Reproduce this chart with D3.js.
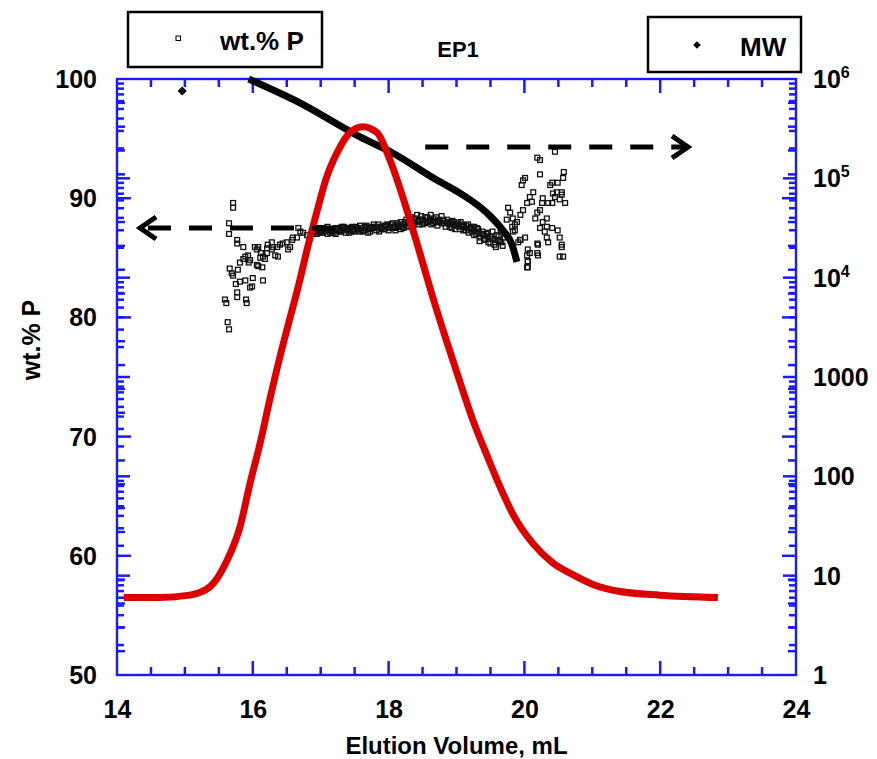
<!DOCTYPE html>
<html><head><meta charset="utf-8">
<script src="https://cdn.jsdelivr.net/npm/d3@7"></script>
<style>
body{margin:0;background:#fff;}
text{font-family:"Liberation Sans",Arial,sans-serif;font-weight:bold;fill:#000;}
</style></head>
<body><svg id="c" width="877" height="759"></svg>
<script>
// ---------- DATA ----------
const xTicks = [14,16,18,20,22,24];
const yLeftTicks = [50,60,70,80,90,100];
const yRightTicks = [1,10,100,1000,1e4,1e5,1e6];
const yRightLabels = [["1",""],["10",""],["100",""],["1000",""],["10","4"],["10","5"],["10","6"]];

// unlabeled red trace (left-axis units)
const riVolume = [14.10,14.63,15.07,15.37,15.62,15.81,15.96,16.11,16.25,16.40,16.55,16.67,16.80,16.95,17.09,17.24,17.43,17.62,17.83,18.02,18.27,18.46,18.65,18.86,19.05,19.24,19.45,19.64,19.83,20.13,20.42,20.72,21.01,21.41,22.00,22.85];
const riSignal = [56.5,56.5,56.7,57.4,59.6,62.4,66.1,69.5,73.1,76.7,80.0,82.6,85.7,89.0,91.8,93.8,95.5,96.0,95.5,93.2,89.0,85.4,81.7,77.9,74.6,71.4,68.4,65.8,63.5,61.0,59.4,58.4,57.6,57.0,56.7,56.5];

// MW (right axis)
const mwVolume = [15.94,16.70,17.58,18.06,18.71,19.05,19.45,19.68,19.82,19.89];
const mwValue  = [1.0e6,5.73e5,2.61e5,1.80e5,9.6e4,7.1e4,4.47e4,3.01e4,2.13e4,1.44e4];
const mwLoneVolume = [14.96];
const mwLoneValue = [7.57e5];

// wt.% P scatter
const wtVolume = [15.71,15.71,15.65,15.65,15.77,15.77,15.86,15.66,15.69,15.71,15.75,15.59,15.61,15.63,15.65,15.77,15.77,15.90,15.91,15.81,15.89,15.99,15.96,16.00,16.15,15.78,15.81,15.86,15.89,15.93,15.96,16.03,16.08,16.06,15.94,16.06,16.08,16.14,16.11,16.15,16.18,16.12,16.21,16.21,16.28,16.30,16.22,16.28,16.33,16.37,16.36,16.40,16.44,16.50,16.52,16.55,16.58,16.59,16.65,16.67,16.70,16.74,16.80,16.84,16.89,
16.92,16.95,16.98,17.01,17.04,17.07,17.10,17.13,17.16,17.19,17.22,17.25,17.28,17.31,17.34,17.37,17.40,17.43,17.46,17.49,17.52,17.55,17.58,17.61,17.64,17.67,17.70,17.73,17.76,17.79,17.82,17.85,17.88,17.91,17.94,17.97,18.00,18.03,18.06,18.09,18.12,18.15,18.18,18.21,18.24,18.27,18.30,18.33,18.36,18.39,18.42,18.45,18.48,18.51,18.54,18.57,18.60,18.63,18.66,18.69,18.72,18.75,18.78,18.81,18.84,18.87,18.90,18.93,18.96,18.99,19.02,19.05,19.08,19.11,19.14,19.17,19.20,19.23,19.26,19.29,19.32,19.35,19.38,19.41,19.44,19.47,19.50,19.53,19.56,19.59,19.62,19.65,19.68,19.71,
16.94,16.98,17.02,17.06,17.10,17.14,17.18,17.22,17.26,17.30,17.34,17.38,17.42,17.46,17.50,17.54,17.58,17.62,17.66,17.70,17.74,17.78,17.82,17.86,17.90,17.94,17.98,18.02,18.06,18.10,18.14,18.18,18.22,18.26,18.30,18.34,18.38,18.42,18.46,18.50,18.54,18.58,18.62,18.66,18.70,18.74,18.78,18.82,18.86,18.90,18.94,18.98,19.02,19.06,19.10,19.14,19.18,19.22,19.26,19.30,19.34,19.38,19.42,19.46,19.50,19.54,19.58,19.62,19.66,19.70,
16.96,17.00,17.05,17.12,17.17,17.24,17.29,17.36,17.41,17.48,17.53,17.60,17.65,17.72,17.77,17.84,17.89,17.96,18.01,18.08,18.13,18.20,18.25,18.32,18.37,18.44,18.49,18.56,18.61,18.68,18.73,18.80,18.85,18.92,18.97,19.04,19.09,19.16,19.21,19.28,19.33,19.40,19.45,19.52,19.57,19.64,
19.76,19.79,19.83,19.74,19.86,19.89,19.82,19.86,19.83,19.91,19.94,20.01,20.05,20.04,20.08,20.05,20.05,20.19,20.20,19.94,19.98,20.04,20.08,20.13,20.11,19.96,19.98,20.01,20.23,20.19,20.23,20.16,20.27,20.23,20.30,20.33,20.41,20.33,20.35,20.49,20.52,20.55,20.57,20.20,20.33,20.26,20.27,20.35,20.42,20.45,20.38,20.41,20.49,20.57,20.58,20.48,20.55,20.52,20.60,20.55,20.41,20.23,20.19,20.45,20.04,20.05,20.19,20.52,20.55,19.94];
const wtValue = [89.6,89.2,87.9,87.0,86.5,86.2,85.9,84.1,83.7,83.5,82.8,81.5,81.2,79.6,79.0,82.1,81.7,81.5,81.2,83.0,83.1,82.6,82.5,83.3,83.1,84.0,84.6,84.9,85.1,85.2,84.8,85.9,85.9,85.7,84.6,84.4,84.3,84.2,85.0,85.1,84.9,85.4,85.4,85.8,85.7,85.9,86.1,86.3,85.2,85.1,85.9,86.1,86.2,86.3,85.7,85.9,86.5,86.7,86.7,87.5,87.2,87.1,86.9,86.7,87.1,
87.2,87.4,87.1,87.3,87.5,87.2,87.0,87.4,87.3,87.1,87.5,87.3,87.2,87.6,87.3,87.1,87.4,87.5,87.2,87.3,87.6,87.4,87.2,87.5,87.3,87.7,87.4,87.2,87.6,87.5,87.3,87.8,87.5,87.4,87.7,87.6,87.3,87.8,87.6,87.5,87.9,87.7,87.4,87.8,88.0,87.6,87.9,88.1,87.7,88.3,88.0,87.8,88.5,88.2,87.9,88.4,88.1,87.8,88.3,88.0,87.7,88.2,87.9,88.1,87.6,88.0,87.8,87.5,88.0,87.7,87.9,87.4,87.8,87.6,87.3,87.8,87.5,87.2,87.6,87.0,87.4,86.7,87.2,86.5,87.0,86.3,86.8,87.2,86.1,86.9,86.4,87.3,86.0,86.7,
87.0,87.5,87.1,87.4,87.6,87.1,87.4,87.0,87.5,87.2,87.6,87.4,87.1,87.6,87.2,87.5,87.7,87.2,87.5,87.1,87.5,87.8,87.6,87.2,87.6,87.4,87.8,87.5,87.9,87.3,87.6,88.0,87.5,88.2,87.7,88.4,87.9,88.6,88.1,87.8,88.4,88.0,88.6,87.9,88.4,88.0,88.5,87.9,88.2,87.6,88.1,87.4,87.7,88.0,87.3,87.7,87.1,87.6,86.9,87.5,86.4,87.0,86.6,87.1,86.2,86.6,85.9,86.8,86.3,87.1,
87.3,87.2,87.4,87.3,87.2,87.4,87.3,87.5,87.3,87.4,87.5,87.3,87.6,87.4,87.5,87.6,87.4,87.7,87.5,87.6,87.8,87.6,87.9,88.0,87.8,88.1,88.2,88.0,88.2,88.1,88.0,88.1,87.9,87.9,87.8,87.6,87.7,87.5,87.4,87.2,87.1,86.9,86.8,86.6,86.5,86.5,
89.2,88.8,88.3,88.2,87.8,88.0,87.6,87.3,87.2,86.3,86.5,86.7,85.7,85.2,85.4,84.7,84.2,86.2,85.2,88.6,89.0,89.6,90.1,90.5,89.7,91.1,91.5,91.7,92.0,88.8,89.0,88.3,88.0,87.5,87.2,87.6,87.5,86.7,86.3,87.3,86.7,86.1,85.1,86.1,88.3,89.6,90.0,89.6,90.4,90.1,91.1,91.3,91.3,91.7,92.2,90.5,90.5,89.9,89.6,90.3,89.6,93.2,93.4,93.9,84.2,84.7,85.4,85.1,85.9,86.5];

// dashed arrows: [volume, value]
const arrowLeft = {from:[17.21,87.5], to:[14.34,87.5]};      // left axis
const arrowRight = {from:[18.54,2.07e5], to:[22.41,2.07e5]}; // right axis

// ---------- CHART ----------
const svg = d3.select("#c");
const L=117,R=796,T=79,B=675;
const blue="#1a1aff";
const x = d3.scaleLinear().domain([14,24]).range([L,R]);
const yL = d3.scaleLinear().domain([50,100]).range([B,T]);
const yR = d3.scaleLog().domain([1,1e6]).range([B,T]);

// tick marks drawn as thin filled rectangles
const xMinor = d3.range(29,48,1).map(v=>v/2).filter(v=>v%2!==0);
const yLMinor = d3.range(25,51,1).map(v=>v*2).filter(v=>v%10!==0);
const logMinor = [];
for(let e=0;e<6;e++) for(let m=2;m<=9;m++) logMinor.push(m*Math.pow(10,e));
const tickG = svg.append("g").attr("fill",blue);
function hTicks(vals,len){
  tickG.append("g").selectAll("rect").data(vals).join("rect")
    .attr("x",d=>x(d)-1.25).attr("y",B-len).attr("width",2.5).attr("height",len);
  tickG.append("g").selectAll("rect").data(vals).join("rect")
    .attr("x",d=>x(d)-1.25).attr("y",T).attr("width",2.5).attr("height",len);
}
function vTicks(vals,scale,len){
  tickG.append("g").selectAll("rect").data(vals).join("rect")
    .attr("y",d=>scale(d)-1.25).attr("x",L).attr("height",2.5).attr("width",len);
  tickG.append("g").selectAll("rect").data(vals).join("rect")
    .attr("y",d=>scale(d)-1.25).attr("x",R-len).attr("height",2.5).attr("width",len);
}
hTicks(xMinor,8); hTicks(xTicks.slice(1,-1),14);
vTicks(yLMinor,yL,8); vTicks(yLeftTicks.slice(1,-1),yL,14);
vTicks(logMinor,yR,7); vTicks(yRightTicks.slice(1,-1),yR,13);

// frame
svg.append("rect").attr("x",L).attr("y",T).attr("width",R-L).attr("height",B-T)
  .attr("fill","none").attr("stroke",blue).attr("stroke-width",2.4);

// x labels via axis
const xa = svg.append("g").attr("transform",`translate(0,${B})`)
  .call(d3.axisBottom(x).tickValues(xTicks).tickSize(0).tickPadding(25).tickFormat(d3.format("d")));
xa.select(".domain").remove();
xa.selectAll("text").style("font-size","25px").style("font-weight","bold").attr("fill","#000").style("font-family","'Liberation Sans',Arial,sans-serif");

// left labels
svg.append("g").selectAll("text").data(yLeftTicks).join("text")
  .attr("x",97).attr("y",d=>yL(d)).attr("dy","0.36em").attr("text-anchor","end")
  .style("font-size","25px").text(d=>d);
// right labels
const rl = svg.append("g").selectAll("text").data(yRightTicks).join("text")
  .attr("x",813).attr("y",d=>yR(d)).attr("dy","0.36em").style("font-size","25px");
rl.each(function(d,i){
  const t=d3.select(this);
  t.append("tspan").text(yRightLabels[i][0]);
  if(yRightLabels[i][1]) t.append("tspan").attr("dy","-0.62em").style("font-size","16px").text(yRightLabels[i][1]);
});

// titles
svg.append("text").attr("x",(L+R)/2).attr("y",754).attr("text-anchor","middle").style("font-size","24px").text("Elution Volume, mL");
svg.append("text").attr("transform","translate(40,340) rotate(-90)").attr("text-anchor","middle").style("font-size","25px").text("wt.% P");
svg.append("text").attr("x",458).attr("y",57).attr("text-anchor","middle").style("font-size","22px").text("EP1");

// scatter wt.% P
svg.append("g").selectAll("rect").data(wtVolume.map((v,i)=>[v,wtValue[i]])).join("rect")
  .attr("x",d=>x(d[0])-2.4).attr("y",d=>yL(d[1])-2.4).attr("width",4.8).attr("height",4.8)
  .attr("fill","none").attr("stroke","#111").attr("stroke-width",1.3);

// MW line
const mwLine = d3.line().x(d=>x(d[0])).y(d=>yR(d[1])).curve(d3.curveMonotoneX);
svg.append("path").datum(mwVolume.map((v,i)=>[v,mwValue[i]])).attr("d",mwLine)
  .attr("fill","none").attr("stroke","#000").attr("stroke-width",7);
const diamond = d3.symbol(d3.symbolSquare,42);
svg.append("g").selectAll("path").data(mwLoneVolume.map((v,i)=>[v,mwLoneValue[i]])).join("path")
  .attr("d",diamond).attr("transform",d=>`translate(${x(d[0])},${yR(d[1])}) rotate(45)`).attr("fill","#000");

// red trace
const riLine = d3.line().x(d=>x(d[0])).y(d=>yL(d[1])).curve(d3.curveMonotoneX);
svg.append("path").datum(riVolume.map((v,i)=>[v,riSignal[i]])).attr("d",riLine)
  .attr("fill","none").attr("stroke","#dd0000").attr("stroke-width",7);

// arrows
function arrow(a,ys){
  const x1=x(a.from[0]),y1=ys(a.from[1]),x2=x(a.to[0]),y2=ys(a.to[1]);
  const dir=Math.sign(x2-x1);
  svg.append("line").attr("x1",x1).attr("y1",y1).attr("x2",x2-dir*4).attr("y2",y2)
    .attr("stroke","#000").attr("stroke-width",5).attr("stroke-dasharray","23,18");
  svg.append("path").attr("d",`M${x2-dir*16},${y2-11}L${x2},${y2}L${x2-dir*16},${y2+11}`)
    .attr("fill","none").attr("stroke","#000").attr("stroke-width",5);
}
arrow(arrowLeft,yL);
arrow(arrowRight,yR);

// legends
const lg1=svg.append("g");
lg1.append("rect").attr("x",128).attr("y",12).attr("width",194).attr("height",55).attr("fill","#fff").attr("stroke","#000").attr("stroke-width",2.5);
lg1.append("rect").attr("x",176).attr("y",36).attr("width",4.5).attr("height",4.5).attr("fill","none").attr("stroke","#000").attr("stroke-width",1);
lg1.append("text").attr("x",220).attr("y",50).style("font-size","26px").text("wt.% P");
const lg2=svg.append("g");
lg2.append("rect").attr("x",648).attr("y",17).attr("width",153).attr("height",55).attr("fill","#fff").attr("stroke","#000").attr("stroke-width",2.5);
lg2.append("path").attr("d",d3.symbol(d3.symbolSquare,30)).attr("transform","translate(697,45) rotate(45)").attr("fill","#000");
lg2.append("text").attr("x",740).attr("y",56).style("font-size","26px").text("MW");
</script></body></html>
